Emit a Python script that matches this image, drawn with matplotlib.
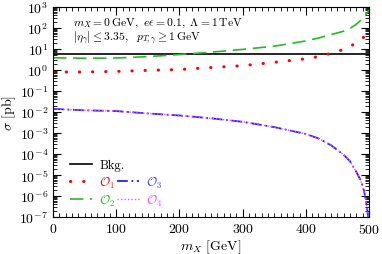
import numpy as np
import matplotlib
matplotlib.use('Agg')
from matplotlib import pyplot as plt
from matplotlib.ticker import MultipleLocator, LogLocator, NullFormatter

plt.rcParams['font.family'] = 'serif'
plt.rcParams['font.serif'] = ['cmr10', 'DejaVu Serif']
plt.rcParams['mathtext.fontset'] = 'cm'
plt.rcParams['axes.formatter.use_mathtext'] = True

# data
mx = [0, 50, 100, 150, 200, 250, 300, 350, 400, 420, 440, 460, 470, 480, 490, 495, 498, 500]
bkg = [5.6] * len(mx)
sig_o1 = [0.8, 0.8, 0.85, 0.95, 1.05, 1.3, 1.6, 2.3, 3.4, 4.3, 6.2, 9.5, 13, 20, 33, 45, 55, 65]
sig_o2 = [3.8, 3.6, 3.7, 4.3, 5.4, 7.0, 9.5, 13.5, 24, 33, 48, 70, 95, 150, 280, 420, 560, 700]
mx3 = [0, 50, 100, 150, 200, 250, 300, 350, 400, 420, 440, 460, 470, 480, 487, 492, 495, 497, 499]
sig_o3 = [0.014, 0.012, 0.011, 0.0085, 0.0068, 0.005, 0.0034, 0.0019, 9e-4, 5.5e-4,
          2.6e-4, 9e-5, 4.5e-5, 1.4e-5, 5.4e-6, 1.8e-6, 7e-7, 2.5e-7, 8e-8]
sig_o4 = sig_o3

fig = plt.figure(figsize=(3.82, 2.55), dpi=100)
ax = fig.add_axes([0.139, 0.145, 0.827, 0.824])

l0, = ax.plot(mx, bkg, color='black', lw=1.2, label='Bkg.')
l1, = ax.plot(mx, sig_o1, color='red', lw=2.2, linestyle=(0, (0.1, 4.2)),
              dash_capstyle='round', label=r'$\mathcal{O}_1$')
l2, = ax.plot(mx, sig_o2, color='#22bb22', lw=1.2, dashes=(8, 4), label=r'$\mathcal{O}_2$')
l3, = ax.plot(mx3, sig_o3, color='#2222ff', lw=1.3, dashes=(6, 2, 1, 2), label=r'$\mathcal{O}_3$')
l4, = ax.plot(mx3, sig_o4, color='#ff44ff', lw=1.0, linestyle=(0, (1, 1.5)), label=r'$\mathcal{O}_4$')

ax.set_yscale('log')
ax.set_xlim(0, 500)
ax.set_ylim(1e-7, 1e3)
ax.xaxis.set_major_locator(MultipleLocator(100))
ax.xaxis.set_minor_locator(MultipleLocator(10))
ax.yaxis.set_major_locator(LogLocator(base=10, numticks=20))
ax.yaxis.set_minor_locator(LogLocator(base=10, subs=np.arange(2, 10), numticks=20))
ax.yaxis.set_minor_formatter(NullFormatter())
ax.tick_params(which='both', direction='in', top=True, right=True, labelsize=10)
ax.tick_params(which='major', length=6, width=0.8)
ax.tick_params(which='minor', length=3, width=0.6)

ax.set_xlabel(r'$m_X$ [GeV]', fontsize=10, labelpad=1)
ax.set_ylabel(r'$\sigma$ [pb]', fontsize=10, labelpad=1)

ax.text(0.063, 0.929, r'$m_X = 0\,\mathrm{GeV},\ e\epsilon = 0.1,\ \Lambda = 1\,\mathrm{TeV}$',
        transform=ax.transAxes, fontsize=8.4, va='center')
ax.text(0.063, 0.857, r'$|\eta_\gamma| \leq 3.35,\ \ p_{T,\gamma} \geq 1\,\mathrm{GeV}$',
        transform=ax.transAxes, fontsize=8.4, va='center')

blank = plt.Line2D([], [], color='none')
handles = [l0, l1, l2, blank, l3, l4]
labels = ['Bkg.', r'$\mathcal{O}_1$', r'$\mathcal{O}_2$', '', r'$\mathcal{O}_3$', r'$\mathcal{O}_4$']
leg = ax.legend(handles, labels, ncol=2, loc='lower left', bbox_to_anchor=(0.019, -0.01),
                frameon=False, fontsize=9, handlelength=1.75, handletextpad=0.55,
                columnspacing=-0.6, labelspacing=0.25)
colors = ['black', 'red', '#22bb22', 'black', '#4444ff', '#ff44ff']
for t, c in zip(leg.get_texts(), colors):
    t.set_color(c)

plt.savefig('out.png', dpi=100)
